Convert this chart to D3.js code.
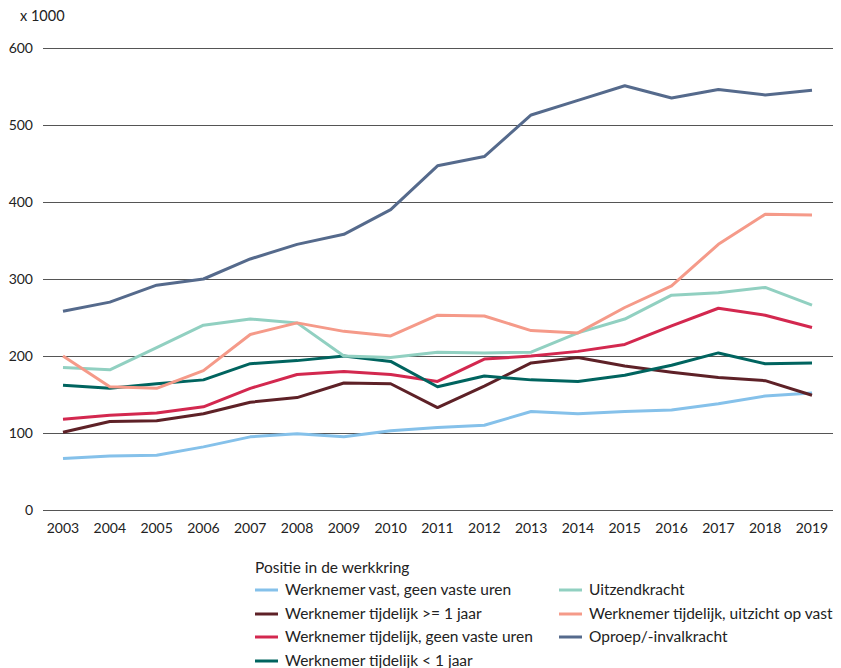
<!DOCTYPE html>
<html>
<head>
<meta charset="utf-8">
<script src="https://cdn.jsdelivr.net/npm/d3@7"></script>
<style>
  body { margin: 0; background: #fff; }
  svg { font-family: Lato, "Open Sans", sans-serif; }
</style>
</head>
<body>
<svg id="chart" width="841" height="668"></svg>
<script>
const years = d3.range(2003, 2020);

const vastGeenUren = [67, 70, 71, 82, 95, 99, 95, 103, 107, 110, 128, 125, 128, 130, 138, 148, 152];
const tijdelijkLang = [101, 115, 116, 125, 140, 146, 165, 164, 133, 161, 191, 198, 187, 179, 172, 168, 149];
const tijdelijkGeenUren = [118, 123, 126, 134, 158, 176, 180, 176, 167, 196, 200, 206, 215, 239, 262, 253, 237];
const tijdelijkKort = [162, 158, 164, 169, 190, 194, 200, 193, 160, 174, 169, 167, 175, 188, 204, 190, 191];
const uitzendkracht = [185, 182, 211, 240, 248, 243, 200, 198, 205, 204, 205, 230, 248, 279, 282, 289, 266];
const uitzichtVast = [200, 160, 158, 181, 228, 243, 232, 226, 253, 252, 233, 230, 263, 291, 345, 384, 383];
const oproep = [258, 270, 292, 300, 326, 345, 358, 390, 447, 459, 513, 532, 551, 535, 546, 539, 545];

const yTicks = [0, 100, 200, 300, 400, 500, 600];

const series = [
  { name: "Werknemer vast, geen vaste uren", values: vastGeenUren, color: "#85c1ea" },
  { name: "Werknemer tijdelijk >= 1 jaar", values: tijdelijkLang, color: "#5e2127" },
  { name: "Werknemer tijdelijk, geen vaste uren", values: tijdelijkGeenUren, color: "#d3284f" },
  { name: "Werknemer tijdelijk < 1 jaar", values: tijdelijkKort, color: "#00645f" },
  { name: "Uitzendkracht", values: uitzendkracht, color: "#91d0c1" },
  { name: "Werknemer tijdelijk, uitzicht op vast", values: uitzichtVast, color: "#f59a89" },
  { name: "Oproep/-invalkracht", values: oproep, color: "#556a8c" },
];

const svg = d3.select("#chart");

const x = d3.scaleLinear().domain([2003, 2019]).range([63, 812]);
const y = d3.scaleLinear().domain([0, 600]).range([510, 48]);

// gridlines + y labels
const grid = svg.append("g");
grid.selectAll("line")
  .data(yTicks)
  .enter()
  .append("line")
  .attr("x1", 43)
  .attr("x2", 833)
  .attr("y1", d => Math.round(y(d)) + 0.5)
  .attr("y2", d => Math.round(y(d)) + 0.5)
  .attr("stroke", "#555")
  .attr("stroke-width", 1);

grid.selectAll("text")
  .data(yTicks)
  .enter()
  .append("text")
  .attr("x", 33)
  .attr("y", d => y(d))
  .attr("dy", "0.35em")
  .attr("text-anchor", "end")
  .attr("fill", "#222")
  .style("font-size", "14px")
  .text(d => d);

svg.append("text")
  .attr("x", 20)
  .attr("y", 21)
  .attr("fill", "#222")
  .style("font-size", "14.5px")
  .text("x 1000");

// x labels
svg.append("g")
  .selectAll("text")
  .data(years)
  .enter()
  .append("text")
  .attr("x", d => x(d))
  .attr("y", 533)
  .attr("text-anchor", "middle")
  .attr("fill", "#222")
  .style("font-size", "14px")
  .text(d => d);

// lines
const line = d3.line()
  .x((d, i) => x(years[i]))
  .y(d => y(d));

svg.append("g")
  .selectAll("path")
  .data(series)
  .enter()
  .append("path")
  .attr("d", d => line(d.values))
  .attr("fill", "none")
  .attr("stroke", d => d.color)
  .attr("stroke-width", 3)
  .attr("stroke-linejoin", "round");

// legend
const legend = svg.append("g");
legend.append("text")
  .attr("x", 255)
  .attr("y", 568)
  .attr("dy", "0.35em")
  .attr("fill", "#222")
  .style("font-size", "15.5px")
  .text("Positie in de werkkring");

const rowY = [590, 614, 637, 661];
const item = legend.selectAll("g.item")
  .data(series)
  .enter()
  .append("g")
  .attr("class", "item")
  .attr("transform", (d, i) => i < 4
    ? `translate(255,${rowY[i]})`
    : `translate(559,${rowY[i - 4]})`);

item.append("line")
  .attr("x1", 0)
  .attr("x2", 23)
  .attr("stroke", d => d.color)
  .attr("stroke-width", 3);

item.append("text")
  .attr("x", 30)
  .attr("dy", "0.35em")
  .attr("fill", "#222")
  .style("font-size", "15.5px")
  .text(d => d.name);
</script>
</body>
</html>
